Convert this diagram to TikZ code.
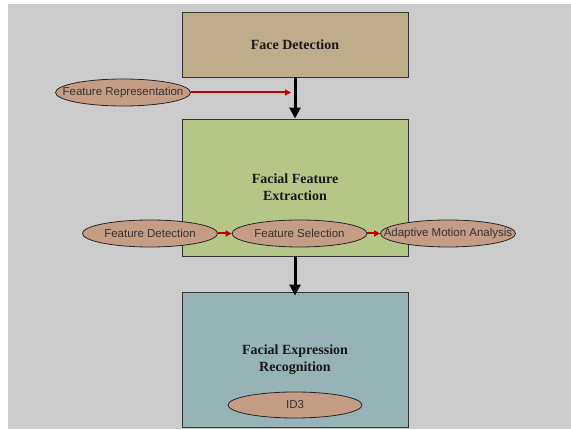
\documentclass[tikz,border=0pt]{standalone}
\usepackage{fontspec}
\setmainfont{Liberation Serif}
\setsansfont{Liberation Sans}
\usetikzlibrary{shapes.geometric,arrows.meta}
\definecolor{bggray}{HTML}{CCCCCC}
\definecolor{tanbox}{HTML}{BEAD8B}
\definecolor{greenbox}{HTML}{B6C687}
\definecolor{bluebox}{HTML}{96B3B5}
\definecolor{ellfill}{HTML}{C59C84}
\definecolor{redarrow}{HTML}{C00000}
\definecolor{edgegray}{HTML}{333333}
\tikzset{
  stagebox/.style={draw=edgegray, line width=0.9pt, minimum width=226pt, inner sep=0pt,
    align=center, font=\fontsize{14}{17}\selectfont\bfseries, text=black!90},
  methodell/.style={ellipse, draw=black!85, line width=0.8pt, fill=ellfill, inner sep=0pt,
    minimum width=135pt, minimum height=27pt},
  elltext/.style={font=\sffamily\fontsize{11.5}{13}\selectfont, text=black!80, inner sep=0pt},
  flowarrow/.style={line width=3pt, black, -{Triangle[width=11pt,length=11pt]}},
  subarrow/.style={line width=2pt, redarrow, -{Triangle[width=6pt,length=6pt]}}
}
\begin{document}
\begin{tikzpicture}[x=1pt,y=-1pt]
\useasboundingbox (0,0) rectangle (571,430);
\fill[white] (0,0) rectangle (571,430);
\fill[bggray] (8,4) rectangle (571,429.5);
\node[stagebox, fill=tanbox, minimum height=65pt] (b1) at (295,44.5) {Face Detection};
\node[stagebox, fill=greenbox, minimum height=137pt] (b2) at (295,187.5) {Facial Feature\\Extraction};
\node[stagebox, fill=bluebox, minimum height=135pt] (b3) at (295,359.5) {Facial Expression\\Recognition};
\draw[flowarrow] (b1.south) -- (b2.north);
\draw[flowarrow] (b2.south) -- ([yshift=-4pt]b3.north);
\node[methodell, label={[elltext]center:Feature Representation}] (fr) at (123,92.5) {};
\coordinate (frend) at (291,92.5);
\draw[subarrow] (fr.east) -- (frend);
\node[methodell, label={[elltext]center:Feature Detection}] (fd) at (150,233.5) {};
\node[methodell, label={[elltext]center:Feature Selection}] (fs) at (299.5,233.5) {};
\node[methodell, label={[elltext]center:Adaptive Motion Analysis}] (ama) at (448,233.5) {};
\draw[subarrow] (fd.east) -- (fs.west);
\draw[subarrow] (fs.east) -- (ama.west);
\node[methodell, minimum width=134pt, minimum height=26pt, label={[elltext]center:ID3}] (id3) at (295,405) {};
\end{tikzpicture}
\end{document}
